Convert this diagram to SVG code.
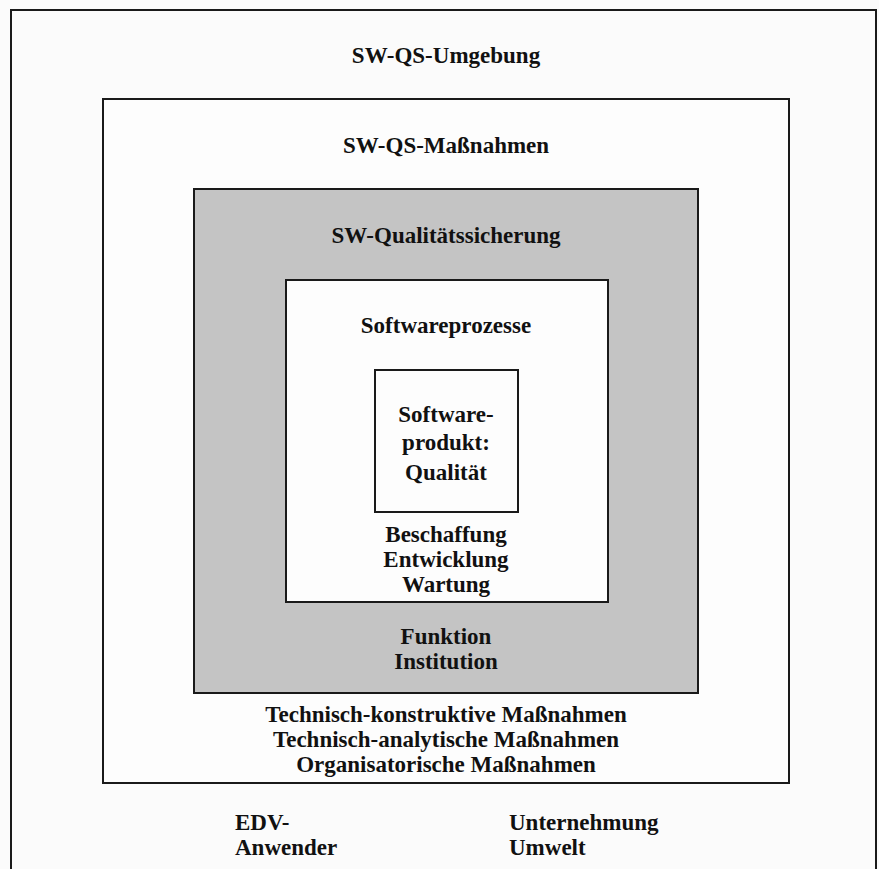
<svg xmlns="http://www.w3.org/2000/svg" width="879" height="869" viewBox="0 0 879 869">
<style>
.box{stroke:#1a1a1a;stroke-width:2}
.t{font-family:"Liberation Serif","Times New Roman",serif;font-weight:bold;font-size:23px;fill:#111;text-anchor:middle}
.l{text-anchor:start}
</style>
<rect x="0" y="0" width="879" height="869" fill="#fbfbfb"/>
<g id="umgebung">
<rect class="box" x="11" y="10" width="865" height="870" fill="none"/>
<text class="t" x="446" y="63">SW-QS-Umgebung</text>
<text class="t l" x="235" y="830">EDV-</text>
<text class="t l" x="235" y="855">Anwender</text>
<text class="t l" x="509" y="830">Unternehmung</text>
<text class="t l" x="509" y="855">Umwelt</text>
</g>
<g id="massnahmen">
<rect class="box" x="103" y="99" width="686" height="684" fill="#fdfdfd"/>
<text class="t" x="446" y="153">SW-QS-Maßnahmen</text>
<text class="t" x="446" y="722">Technisch-konstruktive Maßnahmen</text>
<text class="t" x="446" y="747">Technisch-analytische Maßnahmen</text>
<text class="t" x="446" y="772">Organisatorische Maßnahmen</text>
</g>
<g id="qualitaetssicherung">
<rect class="box" x="194" y="189" width="504" height="504" fill="#c4c4c4"/>
<text class="t" x="446" y="243">SW-Qualitätssicherung</text>
<text class="t" x="446" y="644">Funktion</text>
<text class="t" x="446" y="669">Institution</text>
</g>
<g id="softwareprozesse">
<rect class="box" x="286" y="280" width="322" height="322" fill="#fdfdfd"/>
<text class="t" x="446" y="333">Softwareprozesse</text>
<text class="t" x="446" y="542">Beschaffung</text>
<text class="t" x="446" y="567">Entwicklung</text>
<text class="t" x="446" y="592">Wartung</text>
</g>
<g id="softwareprodukt">
<rect class="box" x="375" y="370" width="143" height="142" fill="#fdfdfd"/>
<text class="t" x="446" y="422">Software-</text>
<text class="t" x="446" y="450">produkt:</text>
<text class="t" x="446" y="480">Qualität</text>
</g>
<g id="connectors"/>
</svg>
